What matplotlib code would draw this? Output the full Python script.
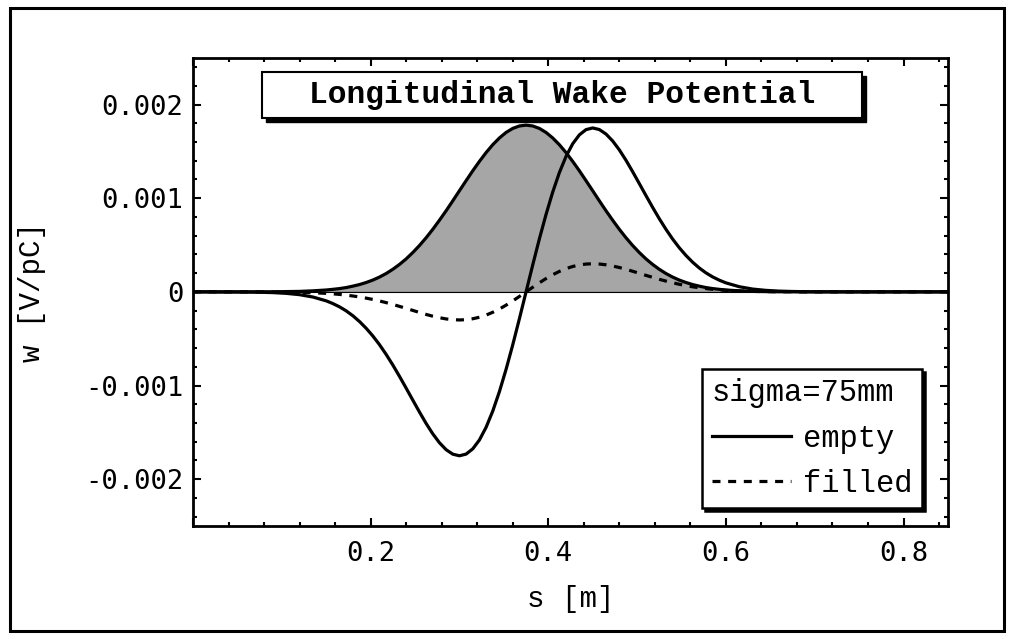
import numpy as np
import matplotlib.pyplot as plt
from matplotlib.patches import Rectangle
from matplotlib.ticker import MultipleLocator, FuncFormatter

# position along the bunch [m]
s = [0.000, 0.015, 0.030, 0.045, 0.060, 0.075, 0.090, 0.105, 0.120, 0.135,
     0.1500, 0.1575, 0.1650, 0.1725, 0.1800, 0.1875, 0.1950, 0.2025, 0.2100, 0.2175,
     0.2250, 0.2325, 0.2400, 0.2475, 0.2550, 0.2625, 0.2700, 0.2775, 0.2850, 0.2925,
     0.3000, 0.3075, 0.3150, 0.3225, 0.3300, 0.3375, 0.3450, 0.3525, 0.3600, 0.3675,
     0.3750,
     0.3825, 0.3900, 0.3975, 0.4050, 0.4125, 0.4200, 0.4275, 0.4350, 0.4425, 0.4500,
     0.4575, 0.4650, 0.4725, 0.4800, 0.4875, 0.4950, 0.5025, 0.5100, 0.5175, 0.5250,
     0.5325, 0.5400, 0.5475, 0.5550, 0.5625, 0.5700, 0.5775, 0.5850, 0.5925, 0.6000,
     0.615, 0.630, 0.645, 0.660, 0.675, 0.690, 0.705, 0.720, 0.735, 0.750, 0.850]

# bunch profile (shaded), in units of 1e-3
bunch = [0.000, 0.000, 0.000, 0.000, 0.000, 0.001, 0.001, 0.003, 0.005, 0.011,
         0.020, 0.027, 0.035, 0.046, 0.061, 0.078, 0.100, 0.126, 0.158, 0.196,
         0.241, 0.293, 0.352, 0.420, 0.495, 0.578, 0.668, 0.765, 0.866, 0.972,
         1.080, 1.187, 1.293, 1.393, 1.487, 1.571, 1.643, 1.702, 1.745, 1.771,
         1.780,
         1.771, 1.745, 1.702, 1.643, 1.571, 1.487, 1.393, 1.293, 1.187, 1.080,
         0.972, 0.866, 0.765, 0.668, 0.578, 0.495, 0.420, 0.352, 0.293, 0.241,
         0.196, 0.158, 0.126, 0.100, 0.078, 0.061, 0.046, 0.035, 0.027, 0.020,
         0.011, 0.005, 0.003, 0.001, 0.001, 0.000, 0.000, 0.000, 0.000, 0.000, 0.000]

# wake potential, empty structure (1e-3 V/pC)
empty = [0.000, 0.000, -0.001, -0.001, -0.002, -0.004, -0.008, -0.016, -0.030, -0.055,
         -0.096, -0.125, -0.160, -0.203, -0.255, -0.317, -0.389, -0.471, -0.564, -0.668,
         -0.781, -0.902, -1.028, -1.156, -1.283, -1.405, -1.516, -1.611, -1.685, -1.733,
         -1.750, -1.732, -1.676, -1.581, -1.446, -1.273, -1.065, -0.827, -0.566, -0.287,
         0.000,
         0.287, 0.566, 0.827, 1.065, 1.273, 1.446, 1.581, 1.676, 1.732, 1.750,
         1.733, 1.685, 1.611, 1.516, 1.405, 1.283, 1.156, 1.028, 0.902, 0.781,
         0.668, 0.564, 0.471, 0.389, 0.317, 0.255, 0.203, 0.160, 0.125, 0.096,
         0.055, 0.030, 0.016, 0.008, 0.004, 0.002, 0.001, 0.001, 0.000, 0.000, 0.000]

# wake potential, filled structure (1e-3 V/pC)
filled = [0.000, 0.000, 0.000, 0.000, 0.000, -0.001, -0.001, -0.003, -0.005, -0.009,
          -0.016, -0.021, -0.027, -0.035, -0.044, -0.054, -0.067, -0.081, -0.097, -0.115,
          -0.134, -0.155, -0.176, -0.198, -0.220, -0.241, -0.260, -0.276, -0.289, -0.297,
          -0.300, -0.297, -0.287, -0.271, -0.248, -0.218, -0.183, -0.142, -0.097, -0.049,
          0.000,
          0.049, 0.097, 0.142, 0.183, 0.218, 0.248, 0.271, 0.287, 0.297, 0.300,
          0.297, 0.289, 0.276, 0.260, 0.241, 0.220, 0.198, 0.176, 0.155, 0.134,
          0.115, 0.097, 0.081, 0.067, 0.054, 0.044, 0.035, 0.027, 0.021, 0.016,
          0.009, 0.005, 0.003, 0.001, 0.001, 0.000, 0.000, 0.000, 0.000, 0.000, 0.000]

s = np.array(s)
bunch = np.array(bunch) * 1e-3
empty = np.array(empty) * 1e-3
filled = np.array(filled) * 1e-3

mono = 'Liberation Mono'
tickfont = 'DejaVu Sans Mono'

fig = plt.figure(figsize=(10.13, 6.39), dpi=100)
ax = fig.add_axes([0.1905, 0.1768, 0.7453, 0.7329])

ax.axhline(0, color='k', lw=1.5, zorder=1)
ax.fill_between(s, 0, bunch, facecolor='#a6a6a6', edgecolor='none', zorder=2)
ax.plot(s, bunch, color='k', lw=2.3, zorder=3)
l_empty, = ax.plot(s, empty, color='k', lw=2.3, zorder=4)
l_filled, = ax.plot(s, filled, color='k', lw=2.3, ls=(0, (2.5, 2.4)), zorder=4)

ax.set_xlim(0, 0.85)
ax.set_ylim(-0.0025, 0.0025)

ax.xaxis.set_major_locator(MultipleLocator(0.2))
ax.xaxis.set_minor_locator(MultipleLocator(0.04))
ax.yaxis.set_major_locator(MultipleLocator(0.001))
ax.yaxis.set_minor_locator(MultipleLocator(0.0002))
ax.xaxis.set_major_formatter(FuncFormatter(lambda v, p: '%.1f' % v if v > 0.01 else ''))
ax.yaxis.set_major_formatter(FuncFormatter(lambda v, p: '0' if abs(v) < 1e-9 else '%.3f' % v))

ax.tick_params(which='both', direction='in', top=True, right=True, width=1.5)
ax.tick_params(which='major', length=6)
ax.tick_params(which='minor', length=3)
ax.tick_params(axis='x', which='major', pad=11)
ax.tick_params(axis='y', which='major', pad=7)
for lab in ax.get_xticklabels() + ax.get_yticklabels():
    lab.set_fontfamily(tickfont)
    lab.set_fontsize(19.5)
for sp in ax.spines.values():
    sp.set_linewidth(2)

ax.set_xlabel('s [m]', family=mono, fontsize=21)
ax.set_ylabel('w [V/pC]', family=mono, fontsize=21)
ax.xaxis.set_label_coords(0.5, -0.125)
ax.yaxis.set_label_coords(-0.195, 0.5)

# legend with solid shadow
leg = ax.legend([l_empty, l_filled], ['empty', 'filled'], title='sigma=75mm',
                loc='lower right', bbox_to_anchor=(0.9656, 0.0385), borderaxespad=0,
                prop={'family': mono, 'size': 22},
                title_fontproperties={'family': mono, 'size': 22},
                alignment='left', handlelength=2.6, handletextpad=0.4,
                labelspacing=0.5, borderpad=0.3, fancybox=False, framealpha=1,
                edgecolor='k', shadow={'color': 'k', 'alpha': 1})
leg.get_frame().set_linewidth(1.8)

# title box with shadow
fig.patches.append(Rectangle((0.2625, 0.8090), 0.5923, 0.072, transform=fig.transFigure,
                             facecolor='k', edgecolor='k', zorder=5))
fig.patches.append(Rectangle((0.2586, 0.8153), 0.5923, 0.072, transform=fig.transFigure,
                             facecolor='white', edgecolor='k', lw=1.5, zorder=6))
fig.text(0.5548, 0.8513, 'Longitudinal Wake Potential', family=mono, weight='bold',
         fontsize=22.5, ha='center', va='center', zorder=7)

# outer frame
fig.patches.append(Rectangle((0.0094, 0.0125), 0.9817, 0.975, transform=fig.transFigure,
                             fill=False, edgecolor='k', lw=2.2))

fig.savefig('out.png', dpi=100)
